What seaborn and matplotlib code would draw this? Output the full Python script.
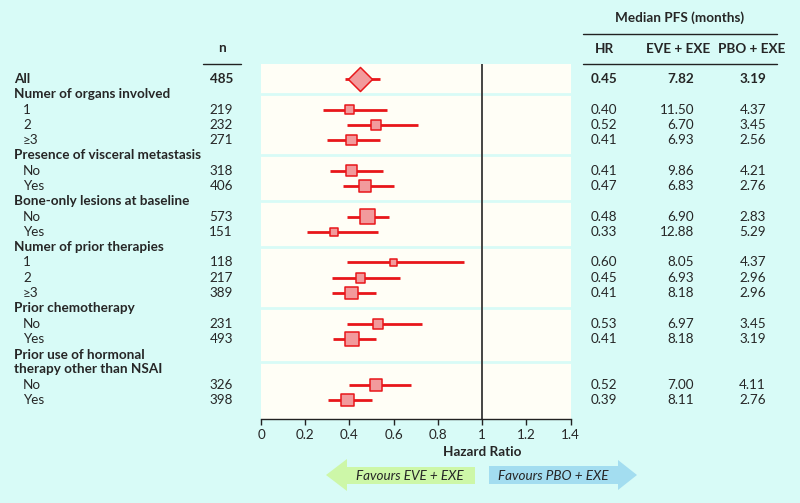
"""
Forest plot of hazard ratios for progression-free survival by subgroup,
with patient counts and median PFS table on the sides.
"""

import numpy as np
import pandas as pd
import matplotlib.pyplot as plt
import matplotlib.transforms as mtransforms
from matplotlib.patches import Polygon
import seaborn as sns

# data
GROUP_TITLES = ['All', 'Numer of organs involved', 'Presence of visceral metastasis',
                'Bone-only lesions at baseline', 'Numer of prior therapies',
                'Prior chemotherapy', 'Prior use of hormonal\ntherapy other than NSAI']
GROUP_IDX = [0, 1, 1, 1, 2, 2, 3, 3, 4, 4, 4, 5, 5, 6, 6]
SUBGROUPS = ['All', '1', '2', '≥3', 'No', 'Yes', 'No', 'Yes', '1', '2', '≥3',
             'No', 'Yes', 'No', 'Yes']
N_PAT = [485, 219, 232, 271, 318, 406, 573, 151, 118, 217, 389, 231, 493, 326, 398]
HR = [0.45, 0.40, 0.52, 0.41, 0.41, 0.47, 0.48, 0.33, 0.60, 0.45, 0.41, 0.53,
      0.41, 0.52, 0.39]
CI_LOW = [0.38, 0.28, 0.39, 0.30, 0.31, 0.37, 0.39, 0.21, 0.39, 0.32, 0.32, 0.39,
          0.325, 0.40, 0.305]
CI_HIGH = [0.54, 0.57, 0.71, 0.54, 0.55, 0.60, 0.58, 0.53, 0.92, 0.63, 0.52, 0.73,
           0.52, 0.68, 0.50]
PFS_EVE = [7.82, 11.50, 6.70, 6.93, 9.86, 6.83, 6.90, 12.88, 8.05, 6.93, 8.18,
           6.97, 8.18, 7.00, 8.11]
PFS_PBO = [3.19, 4.37, 3.45, 2.56, 4.21, 2.76, 2.83, 5.29, 4.37, 2.96, 2.96,
           3.45, 3.19, 4.11, 2.76]
XTICKS = [0, 0.2, 0.4, 0.6, 0.8, 1, 1.2, 1.4]
XTICK_LABELS = ['0', '0.2', '0.4', '0.6', '0.8', '1', '1.2', '1.4']

# colours
BG = '#d8fbf7'
PANEL = '#fffef6'
RED = '#e8161a'
FILL = '#f29a9c'
GREEN = '#cdf7a8'
BLUE = '#a3ddf0'
FONT = ['Lato', 'DejaVu Sans']
FS = 9.7

sns.set_style('white')
plt.rcParams['font.family'] = FONT

# build table with row positions
df = pd.DataFrame({'group': [GROUP_TITLES[i] for i in GROUP_IDX],
                   'sub': SUBGROUPS, 'n': N_PAT, 'hr': HR,
                   'lo': CI_LOW, 'hi': CI_HIGH, 'eve': PFS_EVE, 'pbo': PFS_PBO})
rows, headers = [], []
row, prev = 0, None
for g in df['group']:
    if g != prev and g != 'All':
        n_lines = g.count('\n') + 1
        headers.append((g, row + (n_lines - 1) / 2))
        row += n_lines
    rows.append(row)
    row += 1
    prev = g
df['row'] = rows

# figure
fig = plt.figure(figsize=(8, 5.03), dpi=100)
fig.patch.set_facecolor(BG)
bg = fig.add_axes([0, 0, 1, 1])
bg.set_xlim(0, 800)
bg.set_ylim(503, 0)
bg.axis('off')

ax = fig.add_axes([261 / 800, 84 / 503, 309.5 / 800, 355 / 503])
ax.set_facecolor(PANEL)
ax.set_xlim(0, 1.4)
ax.set_ylim(22.24, -0.98)

# separators
for _, y in headers:
    ax.axhline(y, color=BG, lw=2, zorder=1)
ax.axvline(1, color='#444444', lw=1.4, zorder=2)

# confidence intervals
ax.hlines(df['row'], df['lo'], df['hi'], color=RED, lw=2, zorder=3)

# subgroup boxes sized by n
sub = df[df['group'] != 'All']
sns.scatterplot(data=sub, x='hr', y='row', size='n', sizes=(28, 118),
                size_norm=(118, 573), marker='s', color=FILL, edgecolor=RED,
                linewidth=1.1, legend=False, ax=ax, zorder=4)
overall = df[df['group'] == 'All']
sns.scatterplot(data=overall, x='hr', y='row', marker='D', s=150, color=FILL,
                edgecolor=RED, linewidth=1.1, legend=False, ax=ax, zorder=4)

# axes styling
for side in ['top', 'right', 'left']:
    ax.spines[side].set_visible(False)
ax.spines['bottom'].set_color('#222222')
ax.spines['bottom'].set_linewidth(1)
ax.set_yticks([])
ax.set_xticks(XTICKS, labels=XTICK_LABELS)
ax.tick_params(axis='x', direction='out', length=4, width=1, color='#222222',
               labelsize=FS, pad=3, bottom=True)
ax.set_xlabel('')
ax.set_ylabel('')
ax.text(1, 24.4, 'Hazard Ratio', ha='center', va='center', fontsize=FS,
        fontweight='bold', clip_on=False)

# text columns (x in pixels, y in rows)
tr = mtransforms.blended_transform_factory(bg.transData, ax.transData)
for title, y in headers:
    ax.text(14, y, title, transform=tr, ha='left', va='center', fontsize=FS,
            fontweight='bold', linespacing=1.15, clip_on=False)
for _, r in df.iterrows():
    bold = 'bold' if r['group'] == 'All' else 'normal'
    x_lab = 14 if r['group'] == 'All' else 23
    ax.text(x_lab, r['row'], r['sub'], transform=tr, ha='left', va='center',
            fontsize=FS, fontweight=bold, clip_on=False)
    ax.text(233, r['row'], f"{r['n']}", transform=tr, ha='right', va='center',
            fontsize=FS, fontweight=bold, clip_on=False)
    ax.text(591, r['row'], f"{r['hr']:.2f}", transform=tr, ha='left',
            va='center', fontsize=FS, fontweight=bold, clip_on=False)
    ax.text(694, r['row'], f"{r['eve']:.2f}", transform=tr, ha='right',
            va='center', fontsize=FS, fontweight=bold, clip_on=False)
    ax.text(766, r['row'], f"{r['pbo']:.2f}", transform=tr, ha='right',
            va='center', fontsize=FS, fontweight=bold, clip_on=False)

# headers
bg.text(222, 48, 'n', ha='center', va='center', fontsize=FS, fontweight='bold')
bg.plot([203, 241], [64, 64], color='#222222', lw=1)
bg.text(680, 18, 'Median PFS (months)', ha='center', va='center', fontsize=FS,
        fontweight='bold')
bg.plot([583, 777], [34, 34], color='#222222', lw=1)
bg.text(604, 49, 'HR', ha='center', va='center', fontsize=FS, fontweight='bold')
bg.text(678, 49, 'EVE + EXE', ha='center', va='center', fontsize=FS,
        fontweight='bold')
bg.text(752, 49, 'PBO + EXE', ha='center', va='center', fontsize=FS,
        fontweight='bold')
bg.plot([583, 777], [64, 64], color='#222222', lw=1)

# favour arrows
green = Polygon([[326, 475], [347, 459], [347, 467], [475, 467], [475, 484],
                 [347, 484], [347, 491]], closed=True, color=GREEN, lw=0)
blue = Polygon([[489, 466], [618, 466], [618, 460], [637, 475], [618, 490],
                [618, 484], [489, 484]], closed=True, color=BLUE, lw=0)
bg.add_patch(green)
bg.add_patch(blue)
bg.text(410, 476, 'Favours EVE + EXE', ha='center', va='center', fontsize=FS,
        style='italic')
bg.text(553, 476, 'Favours PBO + EXE', ha='center', va='center', fontsize=FS,
        style='italic')

fig.savefig('out.png', dpi=100, facecolor=BG)
